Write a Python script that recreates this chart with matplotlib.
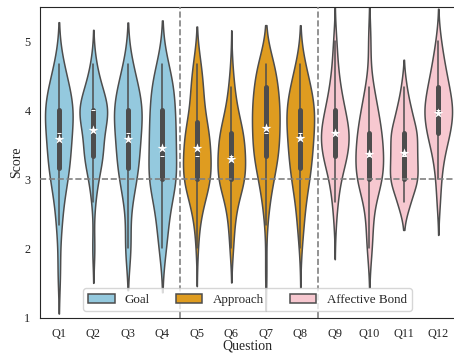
import numpy as np
import pandas as pd
import matplotlib
matplotlib.use("Agg")
import matplotlib.pyplot as plt
import seaborn as sns
from matplotlib.patches import Patch

# score levels: 1.0 ... 5.0 in steps of 1/3
levels = np.arange(3, 16) / 3

questions = ["Q1", "Q2", "Q3", "Q4", "Q5", "Q6", "Q7", "Q8", "Q9", "Q10", "Q11", "Q12"]
groups = ["Goal"] * 4 + ["Approach"] * 4 + ["Affective Bond"] * 4
group_names = ["Goal", "Approach", "Affective Bond"]
group_colors = ["skyblue", "orange", "pink"]

# number of respondents at each score level (1.0, 1.33, ..., 5.0)
q1 = [0, 0, 2, 0, 3, 3, 8, 10, 10, 14, 9, 4, 0]
q2 = [0, 0, 0, 2, 0, 2, 5, 12, 10, 20, 9, 3, 0]
q3 = [0, 0, 0, 4, 1, 3, 8, 10, 10, 14, 9, 4, 0]
q4 = [0, 0, 0, 3, 4, 5, 12, 8, 10, 8, 9, 4, 0]
q5 = [0, 0, 0, 1, 2, 6, 14, 12, 12, 6, 6, 4, 0]
q6 = [0, 0, 0, 2, 3, 6, 15, 14, 13, 6, 3, 1, 0]
q7 = [0, 0, 1, 0, 1, 3, 6, 11, 11, 12, 10, 8, 0]
q8 = [0, 0, 0, 1, 3, 4, 8, 10, 11, 13, 9, 4, 0]
q9 = [0, 0, 0, 0, 1, 3, 6, 14, 17, 11, 6, 3, 2]
q10 = [0, 0, 0, 3, 3, 4, 14, 13, 12, 8, 4, 0, 2]
q11 = [0, 0, 0, 0, 0, 7, 16, 14, 15, 8, 3, 0, 0]
q12 = [0, 0, 0, 0, 0, 2, 3, 6, 13, 17, 12, 7, 3]
counts = [q1, q2, q3, q4, q5, q6, q7, q8, q9, q10, q11, q12]

rows = []
for q, g, c in zip(questions, groups, counts):
    for v in np.repeat(levels, c):
        rows.append((q, g, v))
df = pd.DataFrame(rows, columns=["Question", "Group", "Score"])

sns.set_style("white")
plt.rcParams["font.family"] = ["Liberation Serif", "DejaVu Serif"]

fig = plt.figure(figsize=(4.54, 3.54), dpi=100)
ax = fig.add_axes([39.5 / 454, 36.5 / 354, 416 / 454, 310.8 / 354])

palette = dict(zip(group_names, group_colors))
sns.violinplot(
    data=df, x="Question", y="Score", hue="Group", palette=palette,
    order=questions, hue_order=group_names, dodge=False,
    inner="box", density_norm="width", linewidth=1.1, legend=False,
    inner_kws=dict(box_width=3.6, whis_width=1.1), ax=ax,
)

# mean of each question as a white star
means = df.groupby("Question", sort=False)["Score"].mean()
ax.scatter(range(len(questions)), means.values, marker="*", color="white",
           s=55, linewidths=0, zorder=4)

ax.axhline(3, color="gray", ls="--", lw=1.2, zorder=3)
for x in [3.5, 7.5]:
    ax.axvline(x, color="gray", ls="--", lw=1.2, zorder=3)

ax.set_xlim(-0.56, 11.5)
ax.set_ylim(1, 5.5)
ax.set_yticks([1, 2, 3, 4, 5])
ax.tick_params(labelsize=8.8)
ax.tick_params(axis="x", pad=4)
ax.tick_params(axis="y", pad=3)
ax.set_xlabel("Question", fontsize=10, labelpad=0)
ax.set_ylabel("Score", fontsize=10, labelpad=0.5)

line_col = ax.collections[0].get_edgecolor()[0]
handles = [Patch(facecolor=sns.desaturate(c, 0.75), edgecolor=line_col, linewidth=1.1, label=n)
           for n, c in zip(group_names, group_colors)]
ax.legend(handles=handles, loc="lower center", ncol=3, fontsize=9.4, framealpha=0.8)

fig.savefig("out.png", dpi=100)
